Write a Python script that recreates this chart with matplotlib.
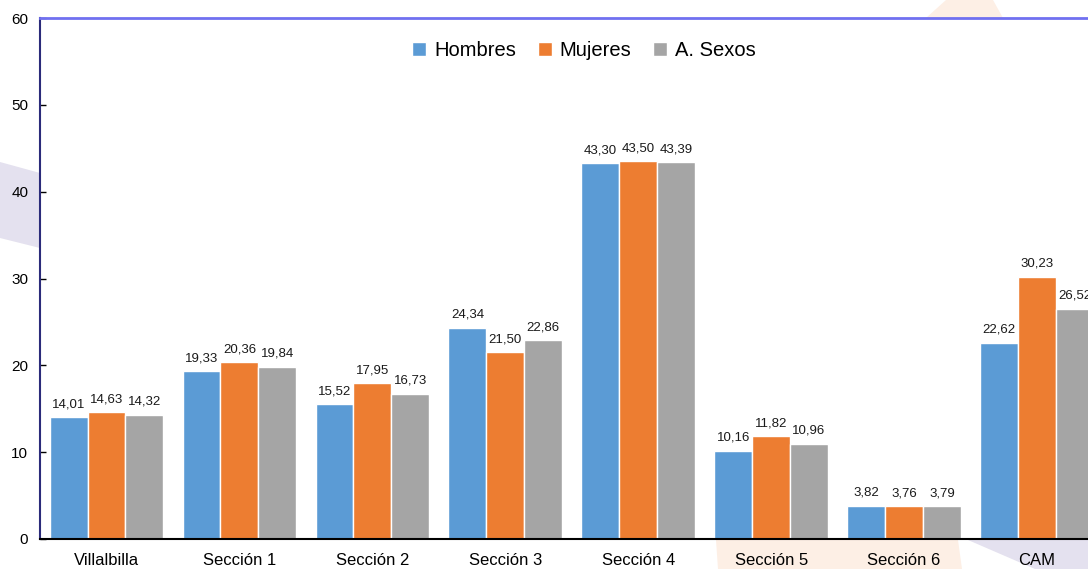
import matplotlib
matplotlib.use("Agg")
import matplotlib.pyplot as plt
import numpy as np
from matplotlib.patches import Polygon

categories = ["Villalbilla", "Sección 1", "Sección 2", "Sección 3",
              "Sección 4", "Sección 5", "Sección 6", "CAM"]
hombres = [14.01, 19.33, 15.52, 24.34, 43.30, 10.16, 3.82, 22.62]
mujeres = [14.63, 20.36, 17.95, 21.50, 43.50, 11.82, 3.76, 30.23]
ambos = [14.32, 19.84, 16.73, 22.86, 43.39, 10.96, 3.79, 26.52]
series_names = ["Hombres", "Mujeres", "A. Sexos"]
colors = ["#5b9bd5", "#ed7d31", "#a5a5a5"]

plt.rcParams["font.family"] = ["Liberation Sans", "DejaVu Sans"]

W, H = 1088, 569
fig = plt.figure(figsize=(W / 100, H / 100), dpi=100)
fig.patch.set_facecolor("white")

# faint slide decorations behind the chart
def fig_poly(pts, color):
    pts = [(x / W, 1 - y / H) for x, y in pts]
    fig.patches.append(Polygon(pts, closed=True, transform=fig.transFigure,
                               facecolor=color, edgecolor="none", zorder=-5))

fig_poly([(0, 162), (40, 173), (40, 248), (0, 238)], "#e4e1ef")
fig_poly([(926, 18), (946, 0), (993, 0), (1003, 18)], "#fdefe5")
fig_poly([(716, 540), (958, 540), (962, 569), (718, 569)], "#fdefe5")
fig_poly([(968, 540), (1088, 540), (1088, 569), (1035, 569)], "#e4e1ef")

ax = fig.add_axes([40 / W, (H - 539) / H, 1 - 40 / W, (539 - 18) / H])
ax.set_zorder(2)
ax.set_facecolor("white")

x = np.arange(len(categories))
bw = 0.285
for i, (vals, name, c) in enumerate(zip([hombres, mujeres, ambos], series_names, colors)):
    pos = x + (i - 1) * bw
    ax.bar(pos, vals, width=bw, color=c, edgecolor="white", linewidth=1.0,
           label=name, zorder=2)
    for xp, v in zip(pos, vals):
        ax.annotate(f"{v:.2f}".replace(".", ","), (xp, v), xytext=(0, 5),
                    textcoords="offset points", ha="center", va="bottom",
                    fontsize=9.5, color="#1a1a1a", annotation_clip=False)

ax.set_ylim(0, 60)
ax.set_xlim(-0.5, (W - 106) / 133)
ax.set_yticks(range(0, 61, 10))
ax.set_xticks(x)
ax.set_xticklabels(categories, fontsize=12)
ax.tick_params(axis="y", direction="in", length=4, width=1, labelsize=11, pad=8.5)
ax.tick_params(axis="x", length=0, pad=10)

ax.spines["left"].set_color("#2b2b7a")
ax.spines["left"].set_linewidth(1.5)
ax.spines["bottom"].set_color("black")
ax.spines["bottom"].set_linewidth(1.5)
ax.spines["top"].set_color("#7070f0")
ax.spines["top"].set_linewidth(2)
ax.spines["right"].set_visible(False)

ax.legend(loc="upper center", bbox_to_anchor=(0.519, 0.99), ncol=3, frameon=False,
          fontsize=14.5, handlelength=0.7, handleheight=0.7, handletextpad=0.4,
          columnspacing=1.05)

fig.savefig("out.png", dpi=100, facecolor="white")
